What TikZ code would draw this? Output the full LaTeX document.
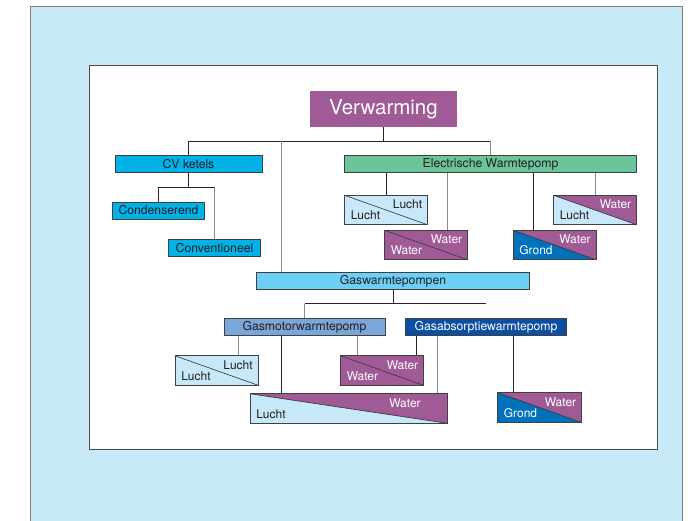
\documentclass[tikz,border=0pt]{standalone}
\usepackage{fontspec}
\setmainfont{TeX Gyre Heros}
\definecolor{bg}{HTML}{C7E9F8}
\definecolor{paars}{HTML}{A05A96}
\definecolor{cvblauw}{HTML}{00B2E8}
\definecolor{groen}{HTML}{6CC59A}
\definecolor{gasblauw}{HTML}{6DCFF6}
\definecolor{motorblauw}{HTML}{7BA6D8}
\definecolor{absblauw}{HTML}{0B4EA2}
\definecolor{grond}{HTML}{0071BB}
\definecolor{lucht}{HTML}{C6E8F8}
\definecolor{tekst}{HTML}{231F20}
\tikzset{
  kop/.style={draw=black!75, line width=0.6pt, inner sep=0pt, text=tekst,
    font=\fontsize{12.2}{14}\selectfont},
  splittekst/.style={draw=none, inner sep=0pt, minimum width=0pt, minimum height=0pt,
    font=\fontsize{12}{14}\selectfont},
  topinset/.store in=\splitinset, topinset=5pt,
  split/.style n args={6}{draw=black!75, line width=0.6pt, inner sep=0pt,
    minimum width=83pt, minimum height=29.5pt,
    path picture={
      \fill[#1] (path picture bounding box.north west) -- (path picture bounding box.south east)
        -- (path picture bounding box.south west) -- cycle;
      \fill[#4] (path picture bounding box.north west) -- (path picture bounding box.north east)
        -- (path picture bounding box.south east) -- cycle;
      \draw[black!80, line width=0.6pt] (path picture bounding box.north west) -- (path picture bounding box.south east);
      \node[splittekst, anchor=base west, text=#2]
        at ([xshift=6pt,yshift=5pt]path picture bounding box.south west) {#3};
      \node[splittekst, anchor=base east, text=#5]
        at ([xshift=-\splitinset,yshift=-13.5pt]path picture bounding box.north east) {#6};
    }},
  dlijn/.style={draw=black!85, line width=0.7pt},
  glijn/.style={draw=black!45, line width=1pt}
}
\begin{document}
\begin{tikzpicture}[x=1pt, y=1pt]
\useasboundingbox (0,0) rectangle (693,-521);
\fill[bg, draw=black!50] (30,-6) rectangle (682,-530);
\filldraw[fill=white, draw=black!70] (89,-65) rectangle (657,-449);
% hoofdvakken
\node[kop, fill=paars, draw=none, text=white, minimum width=147pt, minimum height=35.5pt,
      font=\fontsize{20.5}{24}\selectfont] (verw) at (383.5,-108.8) {Verwarming};
\node[kop, fill=cvblauw, minimum width=147pt, minimum height=17pt] (cv) at (188.5,-164) {CV ketels};
\node[kop, fill=groen, minimum width=292.5pt, minimum height=17pt] (elek) at (490.5,-164) {Electrische Warmtepomp};
\node[kop, fill=cvblauw, minimum width=91.5pt, minimum height=17pt] (cond) at (158.5,-210.5) {Condenserend};
\node[kop, fill=cvblauw, minimum width=91.5pt, minimum height=17.5pt] (conv) at (214.5,-248) {Conventioneel};
\node[kop, fill=gasblauw, minimum width=272.5pt, minimum height=16.5pt] (gas) at (393,-281) {Gaswarmtepompen};
\node[kop, fill=motorblauw, minimum width=161pt, minimum height=17.5pt] (motor) at (304.5,-327) {Gasmotorwarmtepomp};
\node[kop, fill=absblauw, text=white, minimum width=161pt, minimum height=17.5pt] (abs) at (486,-327) {Gasabsorptiewarmtepomp};
% bron / afgifte
\node[split={lucht}{tekst}{Lucht}{lucht}{tekst}{Lucht}] (ll1) at (386,-210) {};
\node[split={paars}{white}{Water}{paars}{white}{Water}] (ww1) at (426,-245) {};
\node[split={grond}{white}{Grond}{paars}{white}{Water}] (gw1) at (554.5,-245) {};
\node[split={lucht}{tekst}{Lucht}{paars}{white}{Water}] (lw1) at (595,-210) {};
\node[split={lucht}{tekst}{Lucht}{lucht}{tekst}{Lucht}] (ll2) at (216.5,-370.5) {};
\node[split={paars}{white}{Water}{paars}{white}{Water}] (ww2) at (382,-370.5) {};
\node[split={lucht}{tekst}{Lucht}{paars}{white}{Water}, minimum width=197pt, topinset=26pt] (lwbig) at (348.5,-408.5) {};
\node[split={grond}{white}{Grond}{paars}{white}{Water}, minimum width=84pt, minimum height=30pt] (gw2) at (539.5,-407.5) {};
% aansluitpunten
\coordinate (gast) at ([xshift=-112pt]gas.north);
\coordinate (ww1t) at ([xshift=21pt]ww1.north);
\coordinate (gw1t) at ([xshift=-21.5pt]gw1.north);
\coordinate (ll2t) at ([xshift=21.5pt]ll2.north);
\coordinate (lwbigl) at ([xshift=-67.5pt]lwbig.north);
\coordinate (lwbigr) at ([xshift=88.5pt]lwbig.north);
\coordinate (ww2l) at ([xshift=-25pt]ww2.north);
\coordinate (ww2r) at ([xshift=34pt]ww2.north);
\coordinate (gw2t) at ([xshift=-26.5pt]gw2.north);
% lijnen
\draw[dlijn] (verw.south) -- ++(0,-14.3) coordinate (verwb);
\draw[dlijn] (cv.north) |- (elek.north |- verwb);
\draw[glijn] (elek.north |- verwb) -- (elek.north);
\draw[glijn] (gast |- verwb) -- (gast);
\draw[dlijn] (cv.south) -- ++(0,-15) coordinate (cvb);
\draw[dlijn] (cond.north) |- (conv.north |- cvb);
\draw[glijn] (conv.north |- cvb) -- (conv.north);
\draw[dlijn] (elek.south -| ll1.north) edge (ll1.north)
             (elek.south -| gw1t) edge (gw1t);
\draw[glijn] (elek.south -| ww1t) edge (ww1t)
             (elek.south -| lw1.north) edge (lw1.north);
\draw[dlijn] (gas.south) -- ++(0,-14) coordinate (gasb);
\draw[dlijn] (motor.north |- gasb) -- (abs.north |- gasb);
\draw[glijn] (motor.north |- gasb) -- (motor.north);
\draw[glijn] (motor.south -| ll2t) edge (ll2t)
             (motor.south -| ww2l) edge (ww2l);
\draw[dlijn] (motor.south -| lwbigl) edge (lwbigl);
\draw[dlijn] (abs.south -| ww2r) edge (ww2r)
             (abs.south -| gw2t) edge (gw2t);
\draw[glijn] (abs.south -| lwbigr) edge (lwbigr);
\end{tikzpicture}
\end{document}
